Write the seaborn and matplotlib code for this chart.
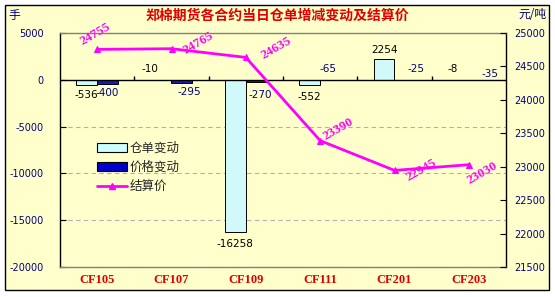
import numpy as np
import pandas as pd
import matplotlib
matplotlib.use("Agg")
import matplotlib.pyplot as plt
from matplotlib.patches import Patch, Rectangle
from matplotlib.lines import Line2D
import seaborn as sns

# ---------------- data ----------------
contracts = ["CF105", "CF107", "CF109", "CF111", "CF201", "CF203"]
warrant_change = [-536, -10, -16258, -552, 2254, -8]      # 仓单变动
price_change = [-400, -295, -270, -65, -25, -35]          # 价格变动
settle_price = [24755, 24765, 24635, 23390, 22945, 23030]  # 结算价
series_names = ["仓单变动", "价格变动", "结算价"]
title = "郑棉期货各合约当日仓单增减变动及结算价"
left_unit = "手"
right_unit = "元/吨"
left_ticks = [5000, 0, -5000, -10000, -15000, -20000]
right_ticks = [25000, 24500, 24000, 23500, 23000, 22500, 22000, 21500]

# ---------------- style ----------------
BG = "#FFFFCC"
CYAN = "#CCFFFF"
BLUE = "#0000CC"
MAG = "#FF00FF"
NAVY = "#000080"
RED = "#E00000"

sns.set_theme(style="white")
plt.rcParams["font.family"] = ["DejaVu Sans", "Noto Sans CJK SC"]
CJK = ["Noto Sans CJK SC", "DejaVu Sans"]

fig = plt.figure(figsize=(5.55, 2.97), dpi=100)
fig.patch.set_facecolor("white")
W, H = 555, 297
# outer framed panel
fig.patches.append(Rectangle((5 / W, 1 - 290 / H), 544 / W, 285 / H, transform=fig.transFigure,
                             facecolor=BG, edgecolor="black", lw=1.0, zorder=-10))

ax = fig.add_axes([60 / W, 1 - 267 / H, 446 / W, 234 / H])
ax.set_facecolor(BG)

df = pd.DataFrame({
    "contract": contracts * 2,
    "value": warrant_change + price_change,
    "series": [series_names[0]] * len(contracts) + [series_names[1]] * len(contracts),
})
sns.barplot(data=df, x="contract", y="value", hue="series", order=contracts,
            hue_order=series_names[:2], palette=[CYAN, BLUE], width=0.565, gap=0,
            edgecolor="black", linewidth=0.7, legend=False, ax=ax, zorder=3)

ax.set_ylim(-20000, 5000)
ax.set_xlim(-0.5, len(contracts) - 0.5)
ax.set_yticks(left_ticks)
ax.set_yticklabels([str(t) for t in left_ticks], color=NAVY, fontsize=7)
ax.yaxis.grid(True, linestyle=(0, (4, 3)), color="#B0B0B0", lw=0.8)
ax.set_axisbelow(True)
ax.tick_params(axis="y", direction="in", length=4, width=0.8, color="black", pad=12)
ax.set_xlabel("")
ax.set_ylabel("")
ax.set_xticks(range(len(contracts)))
ax.set_xticklabels(contracts, color=RED, fontsize=9, fontweight="bold", family="Liberation Serif")
ax.tick_params(axis="x", length=0, pad=5)

for s in ["top", "bottom"]:
    ax.spines[s].set_color("#808080")
    ax.spines[s].set_linewidth(1.0)
ax.spines["left"].set_color("black")
ax.spines["left"].set_linewidth(1.0)
ax.spines["right"].set_color("black")
ax.spines["right"].set_linewidth(1.0)

# category axis at zero with separators
ax.axhline(0, color="black", lw=1.0, zorder=4)
ax.vlines(np.arange(len(contracts) - 1) + 0.5, 0, 420, color="black", lw=1.0, zorder=4)

# bar labels (offsets in points from bar end)
cyan_off = [(0, -7), (-8, 8), (0, -8.5), (0, -9), (0, 6.5), (-4, 8)]
blue_off = [(0, -7), (5, -6.5), (2.5, -9), (-2, 8), (8, 8), (8, 4.5)]
hw = 0.565 / 4
for i, (v, off) in enumerate(zip(warrant_change, cyan_off)):
    ax.annotate(str(v), (i - hw, v), xytext=off, textcoords="offset points",
                ha="center", va="center", fontsize=7.5, color="black", zorder=6)
for i, (v, off) in enumerate(zip(price_change, blue_off)):
    ax.annotate(str(v), (i + hw, v), xytext=off, textcoords="offset points",
                ha="center", va="center", fontsize=7.5, color=NAVY, zorder=6)

# settlement price line on right axis
ax2 = ax.twinx()
xs = np.arange(len(contracts))
sns.lineplot(x=xs, y=settle_price, ax=ax2, color=MAG, lw=2.0, marker="^",
             markersize=5, markeredgecolor=MAG, zorder=5)
ax2.set_ylim(21500, 25000)
ax2.set_yticks(right_ticks)
ax2.set_yticklabels([str(t) for t in right_ticks], color=NAVY, fontsize=7)
ax2.tick_params(axis="y", direction="in", length=4, width=0.8, color="black", pad=6)
for s in ax2.spines.values():
    s.set_visible(False)
ax2.set_ylabel("")
ax2.grid(False)

line_off = [(-1, 11), (19, 4), (22, 7), (13, 8), (19, 0), (10, -6)]
for i, (v, off) in enumerate(zip(settle_price, line_off)):
    ax2.annotate(str(v), (i, v), xytext=off, textcoords="offset points", ha="center",
                 va="center", fontsize=9.5, color=MAG, fontweight="bold",
                 family="Liberation Serif", rotation=30, zorder=7)

# legend
handles = [Patch(facecolor=CYAN, edgecolor="black", lw=0.8),
           Patch(facecolor=BLUE, edgecolor="black", lw=0.8),
           Line2D([0], [0], color=MAG, lw=2.0, marker="^", markersize=4)]
leg = ax.legend(handles, series_names, loc="upper left",
                bbox_to_anchor=(88 / W, 1 - 133 / H), bbox_transform=fig.transFigure,
                frameon=False, prop={"family": CJK, "size": 9}, handlelength=2.4,
                handleheight=0.8, handletextpad=0.2, labelspacing=0.5, borderpad=0.2)

# titles / units
fig.text(277 / W, 1 - 16 / H, title, ha="center", va="center", color=RED,
         fontsize=10, fontweight="bold", family=CJK)
fig.text(8 / W, 1 - 15 / H, left_unit, ha="left", va="center", color=NAVY, fontsize=8.5, family=CJK)
fig.text(547 / W, 1 - 15 / H, right_unit, ha="right", va="center", color=NAVY, fontsize=8.5, family=CJK)

fig.savefig("out.png", dpi=100, facecolor="white")
